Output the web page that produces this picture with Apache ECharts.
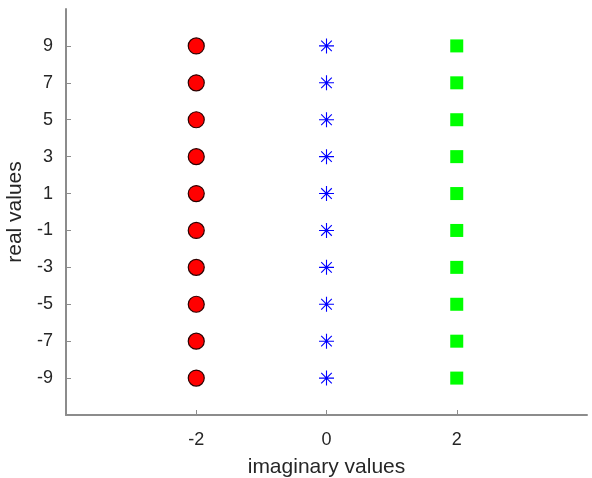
<!DOCTYPE html>
<html>
<head>
<meta charset="utf-8">
<script src="https://cdn.jsdelivr.net/npm/echarts@6/dist/echarts.min.js"></script>
<style>
  html, body { margin: 0; padding: 0; background: #fff; }
  #chart { width: 592px; height: 478px; }
</style>
</head>
<body>
<div id="chart"></div>
<script>
// Real parts shared by all three groups
const realValues = [-9, -7, -5, -3, -1, 1, 3, 5, 7, 9];
// Imaginary part of each group
const imagRed = -2;
const imagBlue = 0;
const imagGreen = 2;
// Axis tick positions
const xTicks = [-2, 0, 2];
const yTicks = [-9, -7, -5, -3, -1, 1, 3, 5, 7, 9];

const toPoints = (im) => realValues.map(re => [im, re]);

// Eight-spoke asterisk drawn as stroked segments
const asterisk = 'path://M10,0L10,20M0,10L20,10M2.93,2.93L17.07,17.07M2.93,17.07L17.07,2.93';

const axisGray = '#8c8c8c';
const textColor = '#262626';
const font = 'Liberation Sans, Arial, Helvetica, sans-serif';

const chart = echarts.init(document.getElementById('chart'), null, { renderer: 'canvas' });
chart.setOption({
  animation: false,
  backgroundColor: '#ffffff',
  grid: { left: 66, right: 5, top: 9, bottom: 63, containLabel: false, outerBoundsMode: 'none' },
  xAxis: {
    type: 'value',
    min: -4, max: 4,
    name: 'imaginary values',
    nameLocation: 'middle',
    nameGap: 42,
    nameTextStyle: { fontFamily: font, fontSize: 21, color: textColor },
    axisLine: { onZero: false, lineStyle: { color: axisGray, width: 2 } },
    axisTick: { show: true, inside: true, length: 5, customValues: xTicks, lineStyle: { color: axisGray, width: 1 } },
    axisLabel: { customValues: xTicks, margin: 16, fontFamily: font, fontSize: 18, color: textColor },
    splitLine: { show: false }
  },
  yAxis: {
    type: 'value',
    min: -11, max: 11,
    name: 'real values',
    nameLocation: 'middle',
    nameGap: 36,
    nameTextStyle: { fontFamily: font, fontSize: 21, color: textColor },
    axisLine: { show: true, onZero: false, lineStyle: { color: axisGray, width: 2 } },
    axisTick: { show: true, inside: true, length: 5, customValues: yTicks, lineStyle: { color: axisGray, width: 1 } },
    axisLabel: { customValues: yTicks, margin: 13, fontFamily: font, fontSize: 18, color: textColor },
    splitLine: { show: false }
  },
  series: [
    {
      type: 'scatter',
      data: toPoints(imagRed),
      symbol: 'circle',
      symbolSize: 16,
      itemStyle: { color: '#ff0000', borderColor: '#2a0000', borderWidth: 1.2, opacity: 1 }
    },
    {
      type: 'scatter',
      data: toPoints(imagBlue),
      symbol: asterisk,
      symbolSize: 15,
      itemStyle: { color: 'none', borderColor: '#0000ff', borderWidth: 1.1, opacity: 1 }
    },
    {
      type: 'scatter',
      data: toPoints(imagGreen),
      symbol: 'rect',
      symbolSize: 13,
      itemStyle: { color: '#00ff00', opacity: 1 }
    }
  ]
});
</script>
</body>
</html>
